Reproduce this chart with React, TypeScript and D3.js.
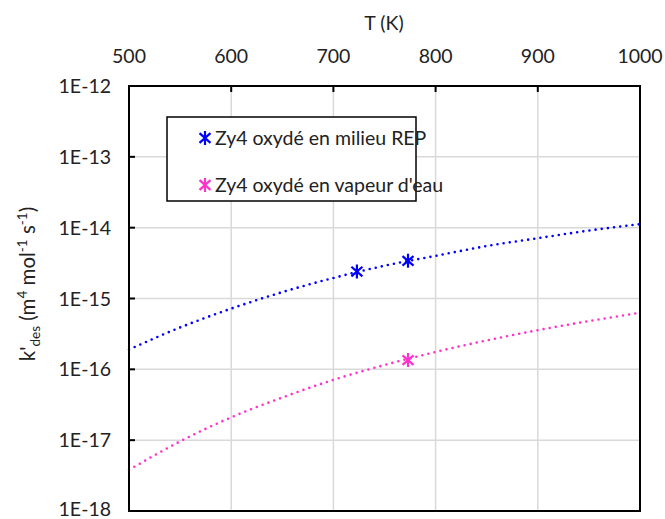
import React from "react";
import * as d3 from "d3";

const xTicks = [500, 600, 700, 800, 900, 1000];
const yTicks = [1e-12, 1e-13, 1e-14, 1e-15, 1e-16, 1e-17, 1e-18];
const yTickLabels = ["1E-12", "1E-13", "1E-14", "1E-15", "1E-16", "1E-17", "1E-18"];

// trend lines
const trendT = [500, 550, 600, 650, 700, 750, 800, 850, 900, 950, 1000];
const trendREP = [1.9e-16, 3.9e-16, 7.2e-16, 1.23e-15, 1.95e-15, 2.9e-15, 4.0e-15, 5.5e-15, 7.1e-15, 9.1e-15, 1.12e-14];
const trendVap = [3.8e-18, 9.6e-18, 2.1e-17, 4.0e-17, 7.1e-17, 1.15e-16, 1.76e-16, 2.56e-16, 3.57e-16, 4.8e-16, 6.3e-16];

// measured points
const pointsREP_T = [723, 773];
const pointsREP_k = [2.4e-15, 3.4e-15];
const pointsVap_T = [773];
const pointsVap_k = [1.35e-16];

const seriesNames = ["Zy4 oxydé en milieu REP", "Zy4 oxydé en vapeur d'eau"];
const colors = ["#0000ff", "#ff33cc"];

const W = 665, H = 519;
const left = 129, right = 640, top = 86, bottom = 511;
const FONT = "Lato, 'Open Sans', sans-serif";
const FS = 19.5;

const Asterisk = ({ x, y, color }: { x: number; y: number; color: string }) => (
  <path
    transform={`translate(${x},${y})`}
    d="M0,-7V7M-5.5,-4.8L5.5,4.8M-5.5,4.8L5.5,-4.8"
    stroke={color}
    strokeWidth={2.2}
    fill="none"
  />
);

export default function App() {
  const x = d3.scaleLinear().domain([500, 1000]).range([left, right]);
  const y = d3.scaleLog().domain([1e-18, 1e-12]).range([bottom, top]);
  const line = d3
    .line<[number, number]>()
    .x((d) => x(d[0]))
    .y((d) => y(d[1]))
    .curve(d3.curveMonotoneX);

  const rep = trendT.map((t, i) => [t, trendREP[i]] as [number, number]);
  const vap = trendT.map((t, i) => [t, trendVap[i]] as [number, number]);

  return (
    <svg
      width={W}
      height={H}
      style={{ position: "absolute", left: 0, top: 0, background: "#fff" }}
      fontFamily={FONT}
    >
      <rect x={0} y={0} width={W} height={H} fill="#fff" />
      {/* grid */}
      {xTicks.slice(1, -1).map((t) => (
        <line key={"gx" + t} x1={x(t)} x2={x(t)} y1={top} y2={bottom} stroke="#d9d9d9" strokeWidth={1.5} />
      ))}
      {yTicks.slice(1, -1).map((t) => (
        <line key={"gy" + t} x1={left} x2={right} y1={y(t)} y2={y(t)} stroke="#d9d9d9" strokeWidth={1.5} />
      ))}
      {/* trend lines */}
      <path d={line(rep) || ""} fill="none" stroke={colors[0]} strokeWidth={2.6} strokeDasharray="0 6.2" strokeLinecap="round" />
      <path d={line(vap) || ""} fill="none" stroke={colors[1]} strokeWidth={2.6} strokeDasharray="0 6.2" strokeLinecap="round" />
      {/* markers */}
      {pointsREP_T.map((t, i) => (
        <Asterisk key={"r" + i} x={x(t)} y={y(pointsREP_k[i])} color={colors[0]} />
      ))}
      {pointsVap_T.map((t, i) => (
        <Asterisk key={"v" + i} x={x(t)} y={y(pointsVap_k[i])} color={colors[1]} />
      ))}
      {/* ticks */}
      {xTicks.slice(1, -1).map((t) => (
        <line key={"tx" + t} x1={x(t)} x2={x(t)} y1={top} y2={top + 6} stroke="#000" strokeWidth={2} />
      ))}
      {yTicks.slice(1, -1).map((t) => (
        <line key={"ty" + t} x1={left} x2={left + 6} y1={y(t)} y2={y(t)} stroke="#000" strokeWidth={2} />
      ))}
      {/* frame */}
      <rect x={left} y={top} width={right - left} height={bottom - top} fill="none" stroke="#000" strokeWidth={2} />
      {/* tick labels */}
      {xTicks.map((t) => (
        <text key={"lx" + t} x={x(t)} y={63} textAnchor="middle" fontSize={FS} fill="#222">
          {t}
        </text>
      ))}
      {yTicks.map((t, i) => (
        <text key={"ly" + t} x={111} y={Math.min(y(t) + 7, 516)} textAnchor="end" fontSize={FS} fill="#222">
          {yTickLabels[i]}
        </text>
      ))}
      {/* axis titles */}
      <text x={384} y={30} textAnchor="middle" fontSize={FS} fill="#222">T (K)</text>
      <text transform="translate(35,284) rotate(-90)" textAnchor="middle" fontSize={20.5} fill="#222" xmlSpace="preserve">
        <tspan>k'</tspan>
        <tspan fontSize={13.5} dy={5}>des</tspan>
        <tspan dy={-5}>{" (m"}</tspan>
        <tspan fontSize={13.5} dy={-8}>4</tspan>
        <tspan dy={8}>{" mol"}</tspan>
        <tspan fontSize={13.5} dy={-8}>-1</tspan>
        <tspan dy={8}>{" s"}</tspan>
        <tspan fontSize={13.5} dy={-8}>-1</tspan>
        <tspan dy={8}>)</tspan>
      </text>
      {/* legend */}
      <rect x={167} y={117} width={249} height={84} fill="#fff" stroke="#000" strokeWidth={1.5} />
      <Asterisk x={205} y={138} color={colors[0]} />
      <text x={215} y={145} fontSize={FS} fill="#222">{seriesNames[0]}</text>
      <Asterisk x={205} y={185} color={colors[1]} />
      <text x={215} y={192} fontSize={FS} fill="#222">{seriesNames[1]}</text>
    </svg>
  );
}
